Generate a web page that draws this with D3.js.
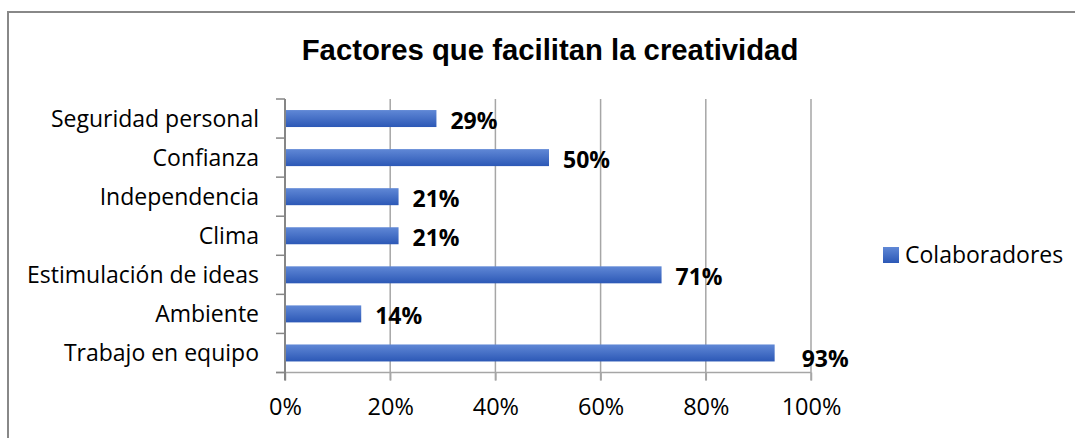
<!DOCTYPE html>
<html>
<head>
<meta charset="utf-8">
<script src="https://cdn.jsdelivr.net/npm/d3@7"></script>
<style>
  body { margin: 0; background: #fff; }
  svg { display: block; }
  text { font-family: 'Open Sans', sans-serif; fill: #000; }
</style>
</head>
<body>
<div id="chart"></div>
<script>
var categories = ['Seguridad personal', 'Confianza', 'Independencia', 'Clima',
  'Estimulación de ideas', 'Ambiente', 'Trabajo en equipo']
var values = [0.286, 0.50, 0.214, 0.214, 0.714, 0.143, 0.929]
var xTicks = [0, 0.2, 0.4, 0.6, 0.8, 1]
var title = 'Factores que facilitan la creatividad'
var seriesName = 'Colaboradores'

var data = categories.map((c, i) => ({cat: c, value: values[i]}))

var width = 1075
var height = 438
var margin = {left: 285, right: 264, top: 99, bottom: 65}

var svg = d3.select('#chart').append('svg')
  .attr('width', width)
  .attr('height', height)

var defs = svg.append('defs')
var grad = defs.append('linearGradient')
  .attr('id', 'barGrad')
  .attr('x1', 0).attr('y1', 0).attr('x2', 0).attr('y2', 1)
grad.append('stop').attr('offset', '0%').attr('stop-color', '#6088d6')
grad.append('stop').attr('offset', '100%').attr('stop-color', '#2c58b6')

// chart frame
svg.append('path')
  .attr('d', 'M8,' + height + 'V12H' + width)
  .attr('fill', 'none')
  .attr('stroke', '#888')
  .attr('stroke-width', 2)

var x = d3.scaleLinear()
  .domain([0, 1])
  .range([margin.left, width - margin.right])

var y = d3.scaleBand()
  .domain(categories)
  .range([margin.top, height - margin.bottom - 0.5])
  .paddingInner(0.565)
  .paddingOuter(0.2825)

var y0 = y.range()[0], y1 = y.range()[1]

// gridlines
svg.append('g')
  .selectAll('line')
  .data(xTicks.slice(1))
  .join('line')
  .attr('x1', d => x(d)).attr('x2', d => x(d))
  .attr('y1', y0).attr('y2', y1 + 8)
  .attr('stroke', '#a6a6a6')
  .attr('stroke-width', 1.5)

// x axis
var xAxis = svg.append('g')
  .attr('transform', 'translate(0,' + y1 + ')')
  .call(d3.axisBottom(x).tickValues(xTicks).tickFormat(d3.format('.0%')).tickSize(8).tickSizeOuter(0))
xAxis.select('.domain').remove()
xAxis.selectAll('line').attr('stroke', '#a6a6a6').attr('stroke-width', 1.5)
xAxis.selectAll('text')
  .attr('y', 42)
  .attr('dy', 0)
  .style('font-size', '23.5px')
  .style('font-family', "'Open Sans', sans-serif")
  .attr('fill', '#000')

svg.append('line')
  .attr('x1', margin.left - 9).attr('x2', x(1))
  .attr('y1', y1).attr('y2', y1)
  .attr('stroke', '#a6a6a6')
  .attr('stroke-width', 1.5)

// y axis line and category ticks
svg.append('line')
  .attr('x1', margin.left).attr('x2', margin.left)
  .attr('y1', y0).attr('y2', y1 + 8)
  .attr('stroke', '#868686')
  .attr('stroke-width', 2)

svg.append('g')
  .selectAll('line')
  .data(d3.range(categories.length + 1))
  .join('line')
  .attr('x1', margin.left - 9).attr('x2', margin.left)
  .attr('y1', i => y0 + i * y.step()).attr('y2', i => y0 + i * y.step())
  .attr('stroke', '#868686')
  .attr('stroke-width', 1.5)

svg.append('g')
  .selectAll('text')
  .data(categories)
  .join('text')
  .attr('x', margin.left - 26)
  .attr('y', d => y(d) + y.bandwidth() / 2)
  .attr('dy', '0.35em')
  .attr('text-anchor', 'end')
  .style('font-size', '23px')
  .text(d => d)

// bars
svg.append('g')
  .selectAll('rect')
  .data(data)
  .join('rect')
  .attr('x', x(0) + 1)
  .attr('y', d => y(d.cat))
  .attr('width', d => x(d.value) - x(0))
  .attr('height', y.bandwidth())
  .attr('fill', 'url(#barGrad)')

// value labels (the last one was nudged in the original)
var nudge = {'Trabajo en equipo': [13, 4]}
svg.append('g')
  .selectAll('text')
  .data(data)
  .join('text')
  .attr('x', d => x(d.value) + 15 + (nudge[d.cat] ? nudge[d.cat][0] : 0))
  .attr('y', d => y(d.cat) + y.bandwidth() / 2 + 2 + (nudge[d.cat] ? nudge[d.cat][1] : 0))
  .attr('dy', '0.35em')
  .style('font-size', '23px')
  .style('font-weight', 'bold')
  .text(d => d3.format('.0%')(d.value))

// title
svg.append('text')
  .attr('x', 550)
  .attr('y', 60)
  .attr('text-anchor', 'middle')
  .style('font-family', "'Liberation Sans', Arial, sans-serif")
  .style('font-size', '29.3px')
  .style('font-weight', 'bold')
  .text(title)

// legend
var legend = svg.append('g').attr('transform', 'translate(883,247)')
legend.append('rect')
  .attr('width', 16).attr('height', 16)
  .attr('fill', 'url(#barGrad)')
legend.append('text')
  .attr('x', 22)
  .attr('y', 8)
  .attr('dy', '0.35em')
  .style('font-size', '23px')
  .text(seriesName)
</script>
</body>
</html>
